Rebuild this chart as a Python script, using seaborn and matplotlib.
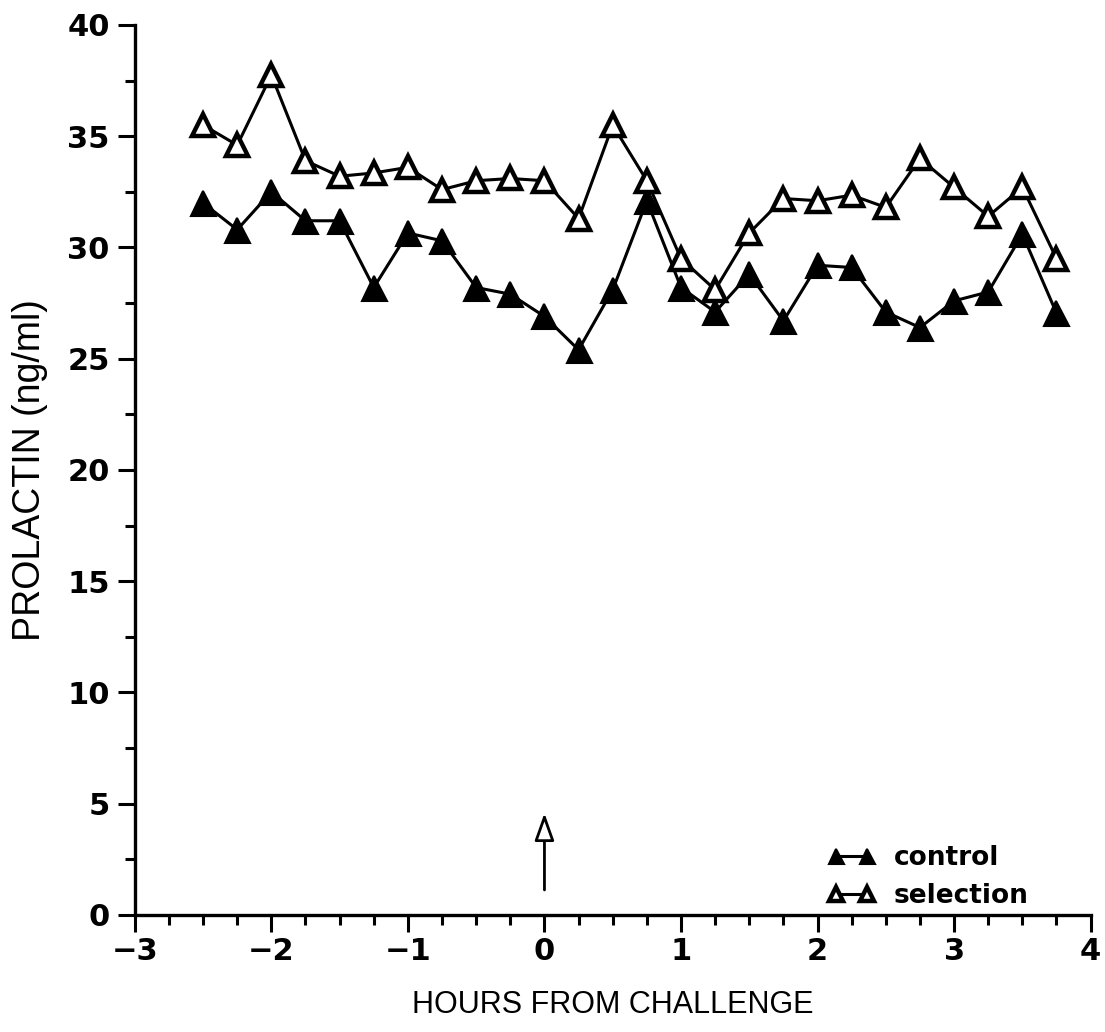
import numpy as np
import pandas as pd
import matplotlib
matplotlib.use("Agg")
import matplotlib.pyplot as plt
import seaborn as sns

# Sampling times (hours relative to challenge)
hours = [-2.5, -2.25, -2.0, -1.75, -1.5, -1.25, -1.0, -0.75, -0.5, -0.25, 0.0,
         0.25, 0.5, 0.75, 1.0, 1.25, 1.5, 1.75, 2.0, 2.25, 2.5, 2.75, 3.0, 3.25,
         3.5, 3.75]

# Mean prolactin (ng/ml) per line
control = [32.0, 30.8, 32.5, 31.2, 31.2, 28.2, 30.65, 30.3, 28.2, 27.9, 26.9,
           25.4, 28.1, 32.1, 28.2, 27.1, 28.8, 26.7, 29.2, 29.1, 27.1, 26.4,
           27.6, 28.0, 30.6, 27.05]
selection = [35.5, 34.6, 37.75, 33.9, 33.2, 33.35, 33.6, 32.6, 33.0, 33.1, 33.0,
             31.3, 35.5, 33.0, 29.5, 28.1, 30.65, 32.2, 32.1, 32.35, 31.8, 34.0,
             32.7, 31.4, 32.7, 29.5]

x_ticks = [-3, -2, -1, 0, 1, 2, 3, 4]
y_ticks = [0, 5, 10, 15, 20, 25, 30, 35, 40]
x_label = "HOURS FROM CHALLENGE"
y_label = "PROLACTIN (ng/ml)"

sns.set_theme(style="ticks")
plt.rcParams["font.family"] = ["DejaVu Sans"]
label_font = ["Liberation Sans", "DejaVu Sans"]

df = pd.DataFrame({
    "hours": hours * 2,
    "prolactin": control + selection,
    "group": ["control"] * len(hours) + ["selection"] * len(hours),
})

fig = plt.figure(figsize=(11.05, 10.32), dpi=100)
ax = fig.add_axes([0.122, 0.1134, 0.865, 0.8624])

sns.lineplot(data=df[df.group == "control"], x="hours", y="prolactin",
             color="black", lw=2.2, marker="^", markersize=18,
             markerfacecolor="black", markeredgecolor="black",
             markeredgewidth=1.5, ax=ax, label="control", zorder=3)
sns.lineplot(data=df[df.group == "selection"], x="hours", y="prolactin",
             color="black", lw=2.2, marker="^", markersize=16,
             markerfacecolor="white", markeredgecolor="black",
             markeredgewidth=3.2, ax=ax, label="selection", zorder=4)

ax.set_xlim(-3, 4)
ax.set_ylim(0, 40)
ax.set_xticks(x_ticks)
ax.set_yticks(y_ticks)
ax.set_xticks(np.arange(-3, 4.01, 0.25), minor=True)
ax.set_yticks(np.arange(0, 40.01, 2.5), minor=True)
ax.set_xticklabels(["\u22123", "\u22122", "\u22121", "0", "1", "2", "3", "4"])
ax.tick_params(axis="both", which="major", length=12, width=2.2,
               labelsize=22, color="black", labelcolor="black")
ax.tick_params(axis="both", which="minor", length=7, width=2.2, color="black")
ax.tick_params(axis="x", pad=4)
ax.tick_params(axis="y", pad=6)
for lab in ax.get_xticklabels() + ax.get_yticklabels():
    lab.set_fontweight("bold")

for side in ("top", "right"):
    ax.spines[side].set_visible(False)
for side in ("left", "bottom"):
    ax.spines[side].set_linewidth(2.4)
    ax.spines[side].set_color("black")

ax.set_xlabel(x_label, fontsize=22, labelpad=17, color="black", family=label_font)
ax.set_ylabel(y_label, fontsize=27, labelpad=14, color="black", family=label_font)

# Challenge marker at time zero
ax.annotate("", xy=(0, 4.7), xytext=(0, 1.0),
            arrowprops=dict(arrowstyle="-|>,head_length=1.4,head_width=0.5",
                            lw=2.0, color="black", fc="white"))

leg = ax.legend(loc="lower right", bbox_to_anchor=(0.96, -0.02), frameon=False,
                fontsize=19, handlelength=1.8, markerscale=0.6, numpoints=2,
                handletextpad=0.7, labelspacing=0.45)
for t in leg.get_texts():
    t.set_fontweight("bold")
    t.set_color("black")

fig.savefig("out.png", dpi=100, facecolor="white")
